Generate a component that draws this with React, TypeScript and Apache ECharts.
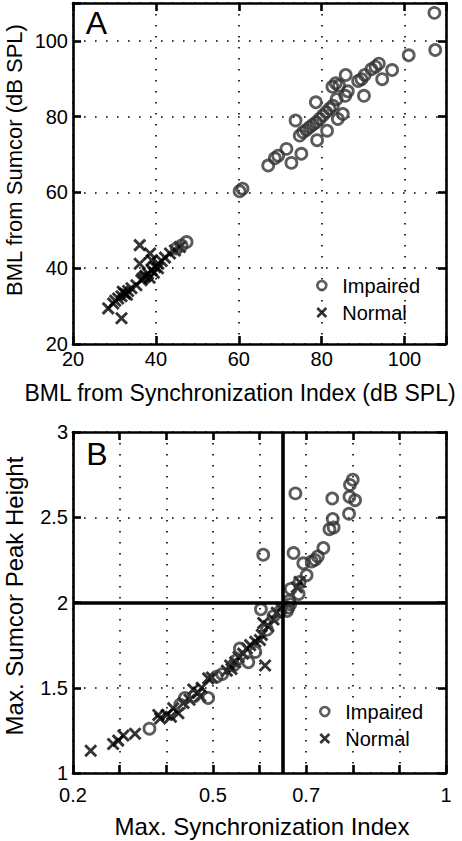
import React, { useEffect, useRef } from "react";
import * as echarts from "echarts";

// ---------- Data ----------
// Panel A: BML from Synchronization Index (x) vs BML from Sumcor (y), dB SPL
const aImpaired: [number, number][] = [
  [107.2, 107.4], [107.4, 97.6], [101, 96.2], [97, 92.3], [94.6, 89.9], [93.8, 94.0],
  [93, 93.2], [92, 92.5], [90.4, 91], [89.6, 89.9], [88.8, 89.4], [90.2, 85.5],
  [85.8, 91], [83.4, 88.8], [82.6, 87.9], [86.3, 86.7], [85.7, 85.5], [85.1, 80.7],
  [83.9, 79.4], [78.6, 83.8], [82.7, 82.9], [81.9, 82.1], [81.1, 81.2], [80.3, 80.3],
  [79.5, 79.4], [78.7, 78.5], [77.9, 77.9], [77.1, 77.2], [76.3, 76.5], [75.5, 75.9],
  [74.7, 75], [73.7, 79], [81.3, 76.3], [78.9, 73.8], [75.1, 70.2], [72.7, 67.8],
  [71.5, 71.5], [69.5, 69.7], [68.7, 69.0], [67.1, 67.1], [60.2, 60.3], [60.9, 61],
  [47.4, 46.9], [46.2, 46], [45, 45.2], [84.2, 88.2], [83.6, 84.6],
];
const aNormal: [number, number][] = [
  [36.1, 46.1], [38.6, 43.9], [36.1, 41.2], [39, 42.1], [31.7, 26.8], [28.5, 29.4],
  [29.7, 30.7], [30.9, 32], [31.7, 32.6], [32.5, 33.3], [33.3, 34], [34.1, 34.7],
  [35.3, 35.5], [36.5, 36.8], [37.3, 37.7], [38.1, 38.6], [39, 39.5], [39.8, 40.3],
  [40.6, 41.2], [41.4, 41.9], [42.2, 42.8], [43.4, 43.9], [44.6, 44.7], [45.8, 45.6],
  [37.5, 38.0], [38.5, 37.5], [39.5, 38.8], [40.5, 40], [36.8, 37.3], [32.0, 33.8],
  [33.0, 33.0], [30.2, 31.4],
];

// Panel B: Max. Synchronization Index (x) vs Max. Sumcor Peak Height (y)
const bImpaired: [number, number][] = [
  [0.8, 2.72], [0.794, 2.69], [0.793, 2.62], [0.805, 2.6], [0.792, 2.52], [0.756, 2.61],
  [0.757, 2.49], [0.759, 2.44], [0.75, 2.43], [0.677, 2.64], [0.737, 2.32], [0.725, 2.27],
  [0.719, 2.25], [0.712, 2.24], [0.694, 2.23], [0.673, 2.29], [0.608, 2.28], [0.701, 2.16],
  [0.686, 2.12], [0.667, 2.08], [0.684, 2.05], [0.664, 2.01], [0.662, 1.97], [0.603, 1.96],
  [0.666, 1.99], [0.659, 1.95], [0.364, 1.26], [0.49, 1.44], [0.44, 1.44], [0.558, 1.73],
  [0.591, 1.71], [0.576, 1.65], [0.508, 1.565], [0.544, 1.63], [0.46, 1.45], [0.52, 1.58],
  [0.55, 1.66], [0.616, 1.84], [0.63, 1.92], [0.645, 1.95], [0.43, 1.4],
];
const bNormal: [number, number][] = [
  [0.238, 1.13], [0.286, 1.17], [0.297, 1.19], [0.308, 1.22], [0.333, 1.23], [0.383, 1.34],
  [0.387, 1.32], [0.401, 1.34], [0.41, 1.33], [0.415, 1.38], [0.426, 1.35], [0.437, 1.41],
  [0.45, 1.43], [0.458, 1.49], [0.473, 1.45], [0.476, 1.5], [0.49, 1.555], [0.498, 1.56],
  [0.537, 1.63], [0.54, 1.61], [0.548, 1.65], [0.555, 1.68], [0.573, 1.73], [0.58, 1.75],
  [0.591, 1.77], [0.601, 1.78], [0.605, 1.81], [0.619, 1.86], [0.608, 1.88], [0.63, 1.9],
  [0.637, 1.94], [0.645, 1.97], [0.612, 1.63], [0.686, 2.12], [0.68, 2.09], [0.53, 1.6],
  [0.565, 1.7], [0.468, 1.47],
];

// Axis ticks / labels
const aTickLabels = [20, 40, 60, 80, 100];
const aRange = [20, 110];
const bXTickLabels = [0.2, 0.5, 0.7, 1];
const bXRange = [0.2, 1];
const bYTickLabels = [1, 1.5, 2, 2.5, 3];
const bYRange = [1, 3];
const bCriterionX = 0.645;
const bCriterionY = 2;
const groupNames = ["Impaired", "Normal"];

const FONT = "Liberation Sans";
const CROSS = "path://M0,0L10,10M0,10L10,0";

function makeFormatter(labels: number[]) {
  return (v: number) => {
    const hit = labels.find((l) => Math.abs(l - v) < 1e-6);
    return hit === undefined ? "" : String(hit);
  };
}

function axis(
  gridIndex: number,
  range: number[],
  interval: number,
  position: string,
  labels: number[] | null,
  margin: number
) {
  const main = labels !== null;
  return {
    type: "value",
    gridIndex,
    position,
    min: range[0],
    max: range[1],
    interval,
    axisLine: { show: true, onZero: false, lineStyle: { color: "#000", width: 2.6 } },
    axisTick: { show: true, inside: true, length: 8, lineStyle: { color: "#000", width: 2.6 } },
    axisLabel: main
      ? {
          show: true,
          fontSize: 20,
          color: "#000",
          fontFamily: FONT,
          margin,
          formatter: makeFormatter(labels as number[]),
          showMinLabel: true,
          showMaxLabel: true,
          hideOverlap: false,
        }
      : { show: false },
    splitLine: main
      ? { show: true, lineStyle: { color: "#000", width: 1.6, type: [1.6, 9.4] } }
      : { show: false },
  };
}

const crossStyle = { color: "transparent", borderColor: "#000", borderWidth: 2.9 };
const circleStyle = { color: "transparent", borderColor: "#333", borderWidth: 2.8 };

export default function App() {
  const ref = useRef<HTMLDivElement>(null);
  useEffect(() => {
    if (!ref.current) return;
    const chart = echarts.init(ref.current, null, { renderer: "svg" });
    const legendCommon = {
      orient: "vertical",
      itemWidth: 9,
      itemHeight: 9,
      itemGap: 6,
      data: groupNames,
      selectedMode: false,
      itemStyle: { borderWidth: 2.6 },
      textStyle: {
        fontSize: 20,
        color: "#000",
        fontFamily: FONT,
        lineHeight: 21,
        padding: [0, 0, 0, 11],
      },
    };
    const letter = { fontSize: 32, fill: "#000", fontFamily: FONT, align: "center", verticalAlign: "middle" };
    const title = { fill: "#000", fontFamily: FONT, verticalAlign: "middle" };
    chart.setOption({
      animation: false,
      backgroundColor: "#fff",
      textStyle: { fontFamily: FONT },
      grid: [
        { left: 73, top: 3, width: 373, height: 341, containLabel: false },
        { left: 73, top: 432, width: 373, height: 341, containLabel: false },
      ],
      legend: [
        { ...legendCommon, left: 311, top: 270 },
        { ...legendCommon, left: 314, top: 696 },
      ],
      xAxis: [
        axis(0, aRange, 20, "bottom", aTickLabels, 5),
        axis(0, aRange, 20, "top", null, 0),
        axis(1, bXRange, 0.1, "bottom", bXTickLabels, 12),
        axis(1, bXRange, 0.1, "top", null, 0),
      ],
      yAxis: [
        axis(0, aRange, 20, "left", aTickLabels, 5),
        axis(0, aRange, 20, "right", null, 0),
        axis(1, bYRange, 0.5, "left", bYTickLabels, 5),
        axis(1, bYRange, 0.5, "right", null, 0),
      ],
      series: [
        {
          type: "scatter", name: groupNames[1], xAxisIndex: 0, yAxisIndex: 0,
          data: aNormal, symbol: CROSS, symbolSize: 11, itemStyle: crossStyle, silent: true,
        },
        {
          type: "scatter", name: groupNames[0], xAxisIndex: 0, yAxisIndex: 0,
          data: aImpaired, symbol: "circle", symbolSize: 11, itemStyle: circleStyle, silent: true,
        },
        {
          type: "scatter", name: groupNames[1], xAxisIndex: 2, yAxisIndex: 2,
          data: bNormal, symbol: CROSS, symbolSize: 11, itemStyle: crossStyle, silent: true,
        },
        {
          type: "scatter", name: groupNames[0], xAxisIndex: 2, yAxisIndex: 2,
          data: bImpaired, symbol: "circle", symbolSize: 11, itemStyle: circleStyle, silent: true,
          markLine: {
            silent: true,
            symbol: ["none", "none"],
            label: { show: false },
            lineStyle: { color: "#000", width: 3.6, type: "solid" },
            emphasis: { disabled: true },
            data: [{ xAxis: bCriterionX }, { yAxis: bCriterionY }],
          },
        },
      ],
      graphic: [
        { type: "text", x: 96.5, y: 23, style: { ...letter, text: "A" } },
        { type: "text", x: 97, y: 454, style: { ...letter, text: "B" } },
        {
          type: "text", x: 240, y: 393,
          style: { ...title, text: "BML from Synchronization Index (dB SPL)", fontSize: 23, align: "center" },
        },
        {
          type: "text", x: 262, y: 826,
          style: { ...title, text: "Max. Synchronization Index", fontSize: 24, align: "center" },
        },
        {
          type: "text", x: 14, y: 160, rotation: Math.PI / 2,
          style: { ...title, text: "BML from Sumcor (dB SPL)", fontSize: 22, align: "center" },
        },
        {
          type: "text", x: 14, y: 596, rotation: Math.PI / 2,
          style: { ...title, text: "Max. Sumcor Peak Height", fontSize: 24, align: "center" },
        },
      ],
    });
    return () => chart.dispose();
  }, []);
  return (
    <div
      ref={ref}
      style={{ position: "fixed", left: 0, top: 0, width: 462, height: 841, background: "#fff" }}
    />
  );
}
